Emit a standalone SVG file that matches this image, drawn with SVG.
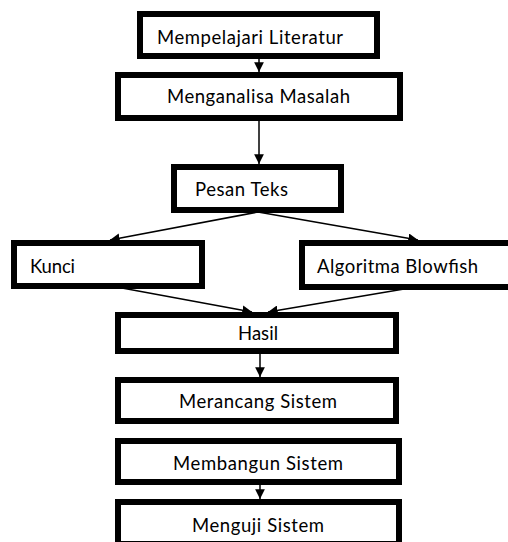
<svg xmlns="http://www.w3.org/2000/svg" width="508" height="542" viewBox="0 0 508 542">
<style>
.box{fill:#fff;stroke:#000;stroke-width:6}
.lbl{font-family:Lato,"Open Sans","Liberation Sans",sans-serif;font-size:18.5px;fill:#000}
.con{stroke:#000;stroke-width:1.5;fill:none}
</style>
<defs>
<marker id="ah" viewBox="0 0 10 10" refX="10" refY="5" markerWidth="6.5" markerHeight="6.5" markerUnits="strokeWidth" orient="auto">
<path d="M0,0 L10,5 L0,10 z" fill="#000"/>
</marker>
</defs>
<rect width="508" height="542" fill="#fff"/>
<g id="connectors">
<line class="con" x1="259" y1="59" x2="259" y2="72" marker-end="url(#ah)"/>
<line class="con" x1="259" y1="121" x2="259" y2="164" marker-end="url(#ah)"/>
<line class="con" x1="258" y1="212" x2="110" y2="240" marker-end="url(#ah)"/>
<line class="con" x1="258" y1="212" x2="418" y2="240" marker-end="url(#ah)"/>
<line class="con" x1="122" y1="288" x2="252" y2="312" marker-end="url(#ah)"/>
<line class="con" x1="410" y1="288" x2="268" y2="312" marker-end="url(#ah)"/>
<line class="con" x1="260" y1="354" x2="260" y2="377" marker-end="url(#ah)"/>
<line class="con" x1="260" y1="485" x2="260" y2="499" marker-end="url(#ah)"/>
</g>
<g id="n1"><rect class="box" x="140" y="14" width="237" height="42"/><text class="lbl" x="157" y="44" textLength="186" lengthAdjust="spacing">Mempelajari Literatur</text></g>
<g id="n2"><rect class="box" x="118" y="75" width="282" height="43"/><text class="lbl" x="167" y="103" textLength="183" lengthAdjust="spacing">Menganalisa Masalah</text></g>
<g id="n3"><rect class="box" x="174" y="167" width="167" height="43"/><text class="lbl" x="195" y="196" textLength="93" lengthAdjust="spacing">Pesan Teks</text></g>
<g id="n4"><rect class="box" x="14" y="243" width="188" height="43"/><text class="lbl" x="30" y="273" textLength="45" lengthAdjust="spacing">Kunci</text></g>
<g id="n5"><rect class="box" x="302" y="243" width="212" height="44"/><text class="lbl" x="317" y="273" textLength="161" lengthAdjust="spacing">Algoritma Blowfish</text></g>
<g id="n6"><rect class="box" x="118" y="315" width="278" height="36"/><text class="lbl" x="238" y="340" textLength="40" lengthAdjust="spacing">Hasil</text></g>
<g id="n7"><rect class="box" x="118" y="380" width="278" height="41"/><text class="lbl" x="179" y="408" textLength="158" lengthAdjust="spacing">Merancang Sistem</text></g>
<g id="n8"><rect class="box" x="118" y="441" width="281" height="41"/><text class="lbl" x="173" y="470" textLength="170" lengthAdjust="spacing">Membangun Sistem</text></g>
<g id="n9"><rect class="box" x="118" y="502" width="281" height="42"/><text class="lbl" x="192" y="532" textLength="132" lengthAdjust="spacing">Menguji Sistem</text></g>
</svg>
